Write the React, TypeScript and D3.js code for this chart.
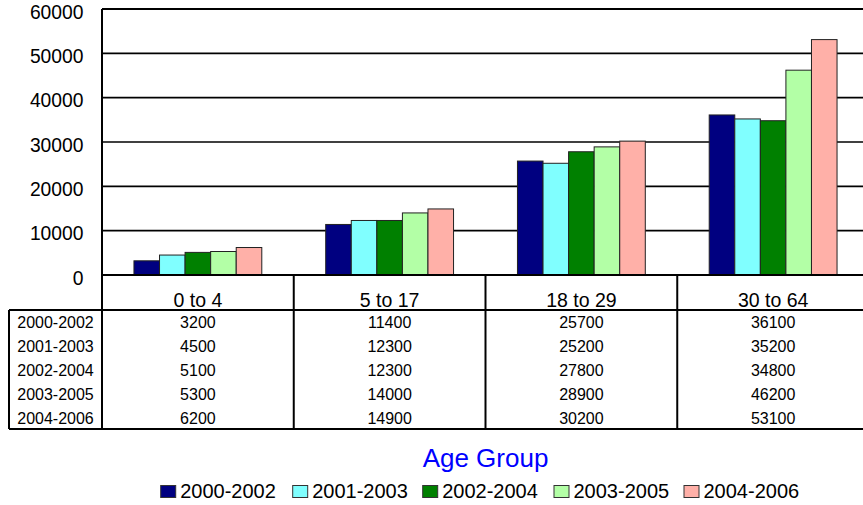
import React from "react";
import * as d3 from "d3";

const categories = ["0 to 4", "5 to 17", "18 to 29", "30 to 64"];
const seriesNames = ["2000-2002", "2001-2003", "2002-2004", "2003-2005", "2004-2006"];
const s2000 = [3200, 11400, 25700, 36100];
const s2001 = [4500, 12300, 25200, 35200];
const s2002 = [5100, 12300, 27800, 34800];
const s2003 = [5300, 14000, 28900, 46200];
const s2004 = [6200, 14900, 30200, 53100];
const seriesValues = [s2000, s2001, s2002, s2003, s2004];
const colors = ["#000080", "#80FFFF", "#008000", "#B3FFA6", "#FFB0A8"];
const yTicks = [0, 10000, 20000, 30000, 40000, 50000, 60000];
const axisTitle = "Age Group";

const W = 863;
const H = 505;
const plotLeft = 102;
const plotRight = 869;
const plotTop = 9;
const plotBottom = 275;
const headerBottom = 310;
const rowH = 23.8;
const tableLeft = 9;
const FONT = "'Liberation Sans', Arial, sans-serif";

export default function App() {
  const x0 = d3.scaleBand<string>().domain(categories).range([plotLeft, plotRight]).paddingInner(0).paddingOuter(0);
  const x1 = d3
    .scaleBand<string>()
    .domain(seriesNames)
    .range([0, x0.bandwidth()])
    .paddingInner(0)
    .paddingOuter(1.25);
  const y = d3.scaleLinear().domain([0, 60000]).range([plotBottom, plotTop]);
  const tableBottom = headerBottom + rowH * seriesNames.length;

  const legendX = [160.7, 292.7, 422.7, 554, 684];

  return (
    <svg
      width={W}
      height={H}
      style={{ position: "absolute", left: 0, top: 0, background: "#fff" }}
      fontFamily={FONT}
    >
      {yTicks.map((t) => (
        <line
          key={"g" + t}
          x1={plotLeft}
          x2={plotRight}
          y1={y(t)}
          y2={y(t)}
          stroke="#000"
          strokeWidth={t === 0 || t === 60000 ? 2 : 1.6}
        />
      ))}
      {yTicks.map((t) => (
        <text key={"t" + t} x={83.5} y={y(t) + 9.5} textAnchor="end" fontSize={19.3} fill="#000">
          {t}
        </text>
      ))}
      {categories.map((c, ci) => (
        <g key={c} transform={`translate(${x0(c)},0)`}>
          {seriesNames.map((s, si) => {
            const v = seriesValues[si][ci];
            return (
              <rect
                key={s}
                x={x1(s)!}
                y={y(v)}
                width={x1.bandwidth()}
                height={y(0) - y(v)}
                fill={colors[si]}
                stroke="#222"
                strokeWidth={1}
              />
            );
          })}
        </g>
      ))}
      <line x1={plotLeft} x2={plotRight} y1={plotBottom} y2={plotBottom} stroke="#000" strokeWidth={2} />
      <line x1={plotLeft} x2={plotLeft} y1={plotTop} y2={tableBottom} stroke="#000" strokeWidth={2} />
      <line x1={tableLeft} x2={plotRight} y1={headerBottom} y2={headerBottom} stroke="#000" strokeWidth={2} />
      <line x1={tableLeft} x2={plotRight} y1={tableBottom} y2={tableBottom} stroke="#000" strokeWidth={2} />
      <line x1={tableLeft} x2={tableLeft} y1={headerBottom} y2={tableBottom} stroke="#000" strokeWidth={2} />
      {categories.slice(1).map((c) => (
        <line key={"v" + c} x1={x0(c)} x2={x0(c)} y1={plotBottom} y2={tableBottom} stroke="#000" strokeWidth={2} />
      ))}
      {categories.map((c) => (
        <text key={"c" + c} x={x0(c)! + x0.bandwidth() / 2} y={306.5} textAnchor="middle" fontSize={19.5} fill="#000">
          {c}
        </text>
      ))}
      {seriesNames.map((s, si) => (
        <g key={"r" + s}>
          <text x={(tableLeft + plotLeft) / 2} y={headerBottom + rowH * si + 18.3} textAnchor="middle" fontSize={16} fill="#000">
            {s}
          </text>
          {categories.map((c, ci) => (
            <text
              key={c}
              x={x0(c)! + x0.bandwidth() / 2}
              y={headerBottom + rowH * si + 18.3}
              textAnchor="middle"
              fontSize={16}
              fill="#000"
            >
              {seriesValues[si][ci]}
            </text>
          ))}
        </g>
      ))}
      <text x={485.5} y={466.5} textAnchor="middle" fontSize={26} fill="#0000FF">
        {axisTitle}
      </text>
      {seriesNames.map((s, si) => (
        <g key={"l" + s}>
          <rect x={legendX[si]} y={485.5} width={15} height={12} fill={colors[si]} stroke="#333" strokeWidth={1} />
          <text x={legendX[si] + 19.5} y={498.3} fontSize={20} fill="#000">
            {s}
          </text>
        </g>
      ))}
    </svg>
  );
}
